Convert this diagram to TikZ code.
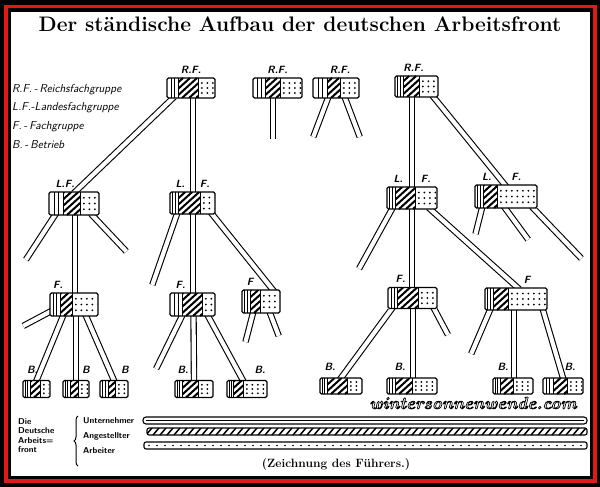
\documentclass[tikz,border=0pt]{standalone}
\usetikzlibrary{positioning, decorations.pathreplacing}

\pgfdeclarelayer{papier}
\pgfdeclarelayer{rohre}
\pgfsetlayers{papier,rohre,main}

\definecolor{rahmenrot}{RGB}{225,25,25}

\tikzset{
  rohr/.style={line width=1.1pt, double=white, double distance=4.2pt,
    shorten <=-2pt, shorten >=-2pt},
  kasten/.style={fill=white, inner sep=0pt, outer sep=0pt},
  lab/.style={font=\sffamily\bfseries\slshape\fontsize{10.5}{11}\selectfont, inner sep=0.5pt},
  blab/.style={lab, yshift=2.5pt},
  leg/.style={font=\sffamily\slshape\fontsize{11.5}{12}\selectfont, anchor=west, inner sep=0pt},
  klein/.style={font=\sffamily\bfseries\fontsize{8.5}{9}\selectfont, anchor=west, inner sep=0pt},
  wm/.style={font=\bfseries\itshape\fontsize{17}{17}\selectfont, inner sep=0pt}
}

% name, x, y, Unternehmer, Angestellte, Arbeiter, Hoehe, Optionen
\newcommand{\gruppe}[8]{%
  \node[kasten, minimum width={#4pt+#5pt+#6pt}, minimum height=#7pt, #8] (#1) at (#2,#3) {};
  \begin{scope}[shift={({#2-(#4+#5+#6)/2},{#3-#7/2})}]
    \draw[line width=0.7pt] ({0.35*#4},0) -- ({0.35*#4},#7)
      ({0.68*#4},0) -- ({0.68*#4},#7);
    \draw[line width=1pt] (#4,0) -- (#4,#7) ({#4+#5},0) -- ({#4+#5},#7);
    \begin{scope}
      \clip (#4,0) rectangle ({#4+#5},#7);
      \foreach \k in {-31,-24,...,32}
        \draw[line width=2pt] ({#4+\k},#7) -- ({#4+\k+1.1*#7},0);
    \end{scope}
    \begin{scope}
      \clip ({#4+#5+1.5},1.5) rectangle ({#4+#5+#6-1},{#7-1.5});
      \foreach \k in {3.8,9.3,...,45}
        \foreach \j in {0.25,0.5,0.75}
          \fill ({#4+#5+\k},{\j*#7}) circle (1pt);
    \end{scope}
  \end{scope}
  \draw[line width=1.1pt, rounded corners=1.5pt] (#1.north west) rectangle (#1.south east);
}

\begin{document}
\begin{tikzpicture}[x=1pt, y=-1pt, label distance=4pt]
  \useasboundingbox (0,0) rectangle (600,487);

  \begin{pgfonlayer}{papier}
    \fill[black] (0,0) rectangle (600,487);
    \fill[rahmenrot] (4,4.6) rectangle (597,482.5);
    \fill[black] (8,8.5) rectangle (593,478.5);
    \fill[white] (11,12) rectangle (590,476);
  \end{pgfonlayer}

  \node (titel) at (300,24) {\fontsize{21}{24}\selectfont\bfseries Der ständische Aufbau der deutschen Arbeitsfront};

  % Erklaerung
  \node[leg] (lrf) at (12,90) {R.F.\,-\,Reichsfachgruppe};
  \node[leg] (llf) at (12,108) {L.F.-Landesfachgruppe};
  \node[leg] (lf) at (12,127) {F.\,-\,Fachgruppe};
  \node[leg] (lb) at (12,145) {B.\,-\,Betrieb};

  % Reichsfachgruppen
  \gruppe{rf1}{191}{88}{11}{20}{17}{20}{label={[lab]above:R.F.}}
  \gruppe{rf2}{277.5}{88}{12}{15}{22}{20}{label={[lab]above:R.F.}}
  \gruppe{rf3}{336}{88}{14}{13}{19}{20}{label={[lab, xshift=4pt]above:R.F.}}
  \gruppe{rf4}{416.5}{86.5}{8}{16}{19}{21}{label={[lab, xshift=-3pt]above:R.F.}}

  % Landesfachgruppen
  \gruppe{lf1}{74}{203.5}{14}{17}{19}{23}{label={[lab, xshift=-9pt]above:L.F.}}
  \gruppe{lf2}{192.5}{203}{8}{22}{15}{22}{label={[lab]above:L.\hspace{15pt}F.}}
  \gruppe{lf3}{412}{198}{8}{20}{22}{22}{label={[lab]above:L.\hspace{18pt}F.}}
  \gruppe{lf4}{506}{196.5}{8}{14}{40}{23}{label={[lab, xshift=-4.5pt]above:L.\hspace{20pt}F.}}

  % Fachgruppen
  \gruppe{f1}{74}{304.5}{10}{12}{26}{23}{label={[lab, xshift=-16pt]above:F.}}
  \gruppe{f2}{192.5}{304.5}{12}{20}{13}{23}{label={[lab, xshift=-12pt]above:F.}}
  \gruppe{f3}{261}{301.5}{8}{10}{20}{23}{label={[lab, xshift=-11pt]above:F}}
  \gruppe{f4}{412.5}{298}{9}{21}{19}{21}{label={[lab, xshift=-12pt]above:F.}}
  \gruppe{f5}{516}{299}{8}{15}{39}{22}{label={[lab, xshift=11pt]above:F}}

  % Betriebe
  \gruppe{b1}{36.5}{389}{7}{10}{10}{17}{label={[blab, xshift=-4pt]above:B.}}
  \gruppe{b2}{76}{389}{7}{8}{11}{17}{label={[blab, xshift=10pt]above:B}}
  \gruppe{b3}{114}{389}{8}{7}{13}{17}{label={[blab, xshift=11pt]above:B}}
  \gruppe{b4}{194}{389}{7}{16}{15}{17}{label={[blab, xshift=-11pt]above:B.}}
  \gruppe{b5}{247}{389}{6}{10}{24}{17}{label={[blab, xshift=13pt]above:B.}}
  \gruppe{b6}{341}{386}{7}{20}{15}{16}{label={[blab, xshift=-11pt]above:B.}}
  \gruppe{b7}{412}{386}{8}{17}{25}{16}{label={[blab, xshift=-12pt]above:B.}}
  \gruppe{b8}{513}{386}{7}{13}{20}{16}{label={[blab, xshift=-10pt]above:B.}}
  \gruppe{b9}{563}{386}{10}{14}{16}{16}{label={[blab, xshift=7pt]above:B.}}

  % offene Enden
  \coordinate (ra) at (273,137);
  \coordinate (rb) at (314,135);
  \coordinate (rc) at (359,135);
  \coordinate (lfa) at (27,258);
  \coordinate (lfb) at (125,250);
  \coordinate (lfc) at (153,283);
  \coordinate (lfd) at (360,267);
  \coordinate (lfe) at (476,232);
  \coordinate (lff) at (527,238);
  \coordinate (lfg) at (580,257);
  \coordinate (fa) at (25,325);
  \coordinate (fb) at (157,367);
  \coordinate (fc) at (246,340);
  \coordinate (fd) at (278,334);
  \coordinate (fe) at (447,333);
  \coordinate (ff) at (472,352);

  \begin{pgfonlayer}{rohre}
    \draw[rohr] ([xshift=-18pt]rf1.south) -- ([xshift=1pt]lf1.north);
    \draw[rohr] ([xshift=2pt]rf1.south) -- ([xshift=0.5pt]f2.north);
    \draw[rohr] ([xshift=-4.5pt]rf2.south) -- (ra);
    \draw[rohr] ([xshift=-8pt]rf3.south) -- (rb);
    \draw[rohr] ([xshift=9pt]rf3.south) -- (rc);
    \draw[rohr] ([xshift=-4.5pt]rf4.south) -- ([xshift=-0.5pt]f4.north);
    \draw[rohr] ([xshift=17pt]rf4.south) -- ([xshift=-1pt]lf4.north);

    \draw[rohr] ([xshift=-19pt]lf1.south) -- (lfa);
    \draw[rohr] ([xshift=1pt]lf1.south) -- ([xshift=1pt]f1.north);
    \draw[rohr] ([xshift=18pt]lf1.south) -- (lfb);
    \draw[rohr] ([xshift=-15.5pt]lf2.south) -- (lfc);
    \draw[rohr] ([xshift=19.5pt]lf2.south) -- ([xshift=12pt]f3.north);
    \draw[rohr] ([xshift=-20pt]lf3.south) -- (lfd);
    \draw[rohr] ([xshift=18pt]lf3.south) -- ([xshift=2pt]f5.north);
    \draw[rohr] ([xshift=-24pt]lf4.south) -- (lfe);
    \draw[rohr] ([xshift=-1pt]lf4.south) -- (lff);
    \draw[rohr] ([xshift=27pt]lf4.south) -- (lfg);

    \draw[rohr] ([xshift=6pt,yshift=-4pt]f1.west) -- (fa);
    \draw[rohr] ([xshift=-11pt]f1.south) -- (b1.north);
    \draw[rohr] ([xshift=2pt]f1.south) -- (b2.north);
    \draw[rohr] ([xshift=12pt]f1.south) -- (b3.north);
    \draw[rohr] ([xshift=-10.5pt]f2.south) -- (fb);
    \draw[rohr] ([xshift=1pt]f2.south) -- (b4.north);
    \draw[rohr] ([xshift=15.5pt]f2.south) -- ([xshift=-4pt]b5.north);
    \draw[rohr] ([xshift=-8pt]f3.south) -- (fc);
    \draw[rohr] ([xshift=9pt]f3.south) -- (fd);
    \draw[rohr] ([xshift=-20.5pt]f4.south) -- (b6.north);
    \draw[rohr] ([xshift=0.5pt]f4.south) -- ([xshift=1pt]b7.north);
    \draw[rohr] ([xshift=21.5pt]f4.south) -- (fe);
    \draw[rohr] ([xshift=-26pt]f5.south) -- (ff);
    \draw[rohr] ([xshift=-2pt]f5.south) -- ([xshift=1pt]b8.north);
    \draw[rohr] ([xshift=27pt]f5.south) -- (b9.north);
  \end{pgfonlayer}

  % Wasserzeichen
  \node[wm] (wasserzeichen) at (473,403) {\color{white}\special{pdf:literal direct 2 Tr 0.7 w 0 G}wintersonnenwende.com\special{pdf:literal direct 0 Tr}};

  % Die Deutsche Arbeitsfront
  \node[klein] (die) at (18,422) {Die};
  \node[klein] (deutsche) at (18,431) {Deutsche};
  \node[klein] (arbeits) at (18,441) {Arbeits=};
  \node[klein] (front) at (18,450) {front};
  \draw[decorate, decoration={brace, amplitude=4pt}, line width=1pt] (78,466) -- (78,416);
  \node[klein] (unternehmer) at (83,421) {Unternehmer};
  \node[klein] (angestellter) at (83,436) {Angestellter};
  \node[klein] (arbeiter) at (83,451) {Arbeiter};

  \draw[line width=1.1pt, rounded corners=3pt] (143,417) rectangle (587,424);
  \draw[line width=0.5pt] (146,420.5) -- (584,420.5);
  \begin{scope}
    \clip (147,428) rectangle (587,435);
    \foreach \k in {146,153,...,590}
      \draw[line width=1.5pt] (\k,435) -- (\k+6,428);
  \end{scope}
  \draw[line width=1.1pt, rounded corners=2pt] (147,428) rectangle (587,435);
  \draw[line width=1.1pt, rounded corners=2pt] (144,442) rectangle (587,449);
  \foreach \k in {149,157,...,583}
    \fill (\k,445.5) circle (0.8pt);

  \node (zeichnung) at (336,465) {\fontsize{12}{14}\selectfont\bfseries (Zeichnung des Führers.)};
\end{tikzpicture}
\end{document}
